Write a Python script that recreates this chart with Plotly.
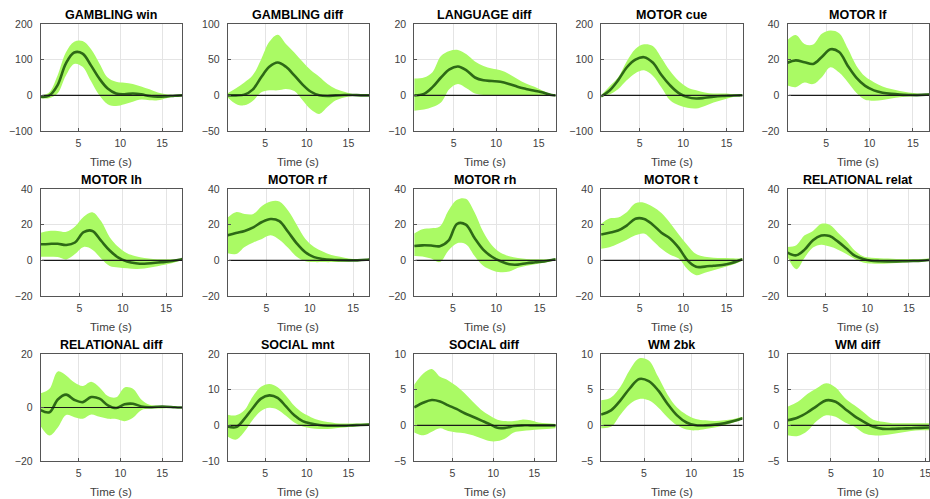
import plotly.graph_objects as go

# ---------------- data ----------------
TITLES = ["GAMBLING win", "GAMBLING diff", "LANGUAGE diff", "MOTOR cue", "MOTOR lf",
          "MOTOR lh", "MOTOR rf", "MOTOR rh", "MOTOR t", "RELATIONAL relat",
          "RELATIONAL diff", "SOCIAL mnt", "SOCIAL diff", "WM 2bk", "WM diff"]

YLIMS = [[-100, 200], [-50, 100], [-10, 20], [-100, 200], [-20, 40],
         [-20, 40], [-20, 40], [-20, 40], [-20, 40], [-20, 40],
         [-20, 20], [-10, 20], [-5, 10], [-5, 10], [-5, 10]]
YTICKS = [[-100, 0, 100, 200], [-50, 0, 50, 100], [-10, 0, 10, 20], [-100, 0, 100, 200], [-20, 0, 20, 40],
          [-20, 0, 20, 40], [-20, 0, 20, 40], [-20, 0, 20, 40], [-20, 0, 20, 40], [-20, 0, 20, 40],
          [-20, 0, 20], [-10, 0, 10, 20], [-5, 0, 5, 10], [-5, 0, 5, 10], [-5, 0, 5, 10]]
XTICKS = [5, 10, 15]
ZERO_START = 0.7

MID = [1.5, 2.5, 3.5, 4.5, 5.5, 6.5, 7.5, 8.5, 9.5, 10.5, 11.5, 12.5, 13.5, 14.5, 15.5, 16.5]
MID_WM = [1.5, 2.5, 3.5, 4.5, 5.5, 6.5, 7.5, 8.5, 9.5, 10.5, 11.5, 12.5, 13.5, 14.5]

t_gw = [0.5] + MID + [17.4]
m_gw = [-4, -1, 28, 89, 120, 117, 84, 47, 19, 5, 3, 5, 3, -2, -4, -3, -1, 0]
hi_gw = [0, 8, 55, 120, 150, 152, 130, 90, 50, 38, 35, 32, 25, 17, 8, 3, 1, 0]
lo_gw = [-8, -8, 5, 55, 88, 80, 40, 0, -25, -30, -25, -18, -12, -14, -14, -8, -3, 0]

t_gd = [0.5] + MID + [17.5]
m_gd = [0, 0, 1, 8, 25, 40, 46, 40, 28, 15, 5, 0, -1, 0, 0.5, 0.5, 0, 0]
hi_gd = [3, 10, 18, 28, 50, 75, 85, 72, 60, 47, 35, 26, 16, 9, 5, 2, 0.5, 0]
lo_gd = [-3, -12, -14, -8, 4, 7, 7, 9, 6, -7, -20, -26, -16, -7, -3, -1, 0, 0]

t_ld = [0.35] + MID + [17.0]
m_ld = [0, 0.4, 2.3, 5, 7.3, 8.1, 7, 5, 4.2, 4, 3.8, 3.2, 2.4, 1.8, 1.3, 0.8, 0.1, 0]
hi_ld = [4.7, 5, 6.5, 11, 12.4, 12.7, 11.5, 9.5, 8.2, 7.5, 7, 6, 4.6, 3.3, 2.4, 1.3, 0.3, 0]
lo_ld = [-4.3, -4, -3.3, -2, 1.8, 3.2, 2, 0.5, 0.1, 0, 0, 0, 0, 0, 0, 0, 0, 0]

t_motor = [0.55] + MID + [16.85]
m_mc = [-3, 13, 42, 78, 100, 107, 92, 57, 28, 6, -5, -9, -7, -4, -2, -1, 0, 0]
hi_mc = [0, 25, 50, 95, 130, 143, 138, 105, 68, 40, 22, 14, 8, 5, 5, 4, 1, 0]
lo_mc = [-5, 2, 17, 42, 62, 70, 55, 22, -14, -28, -35, -37, -30, -20, -13, -6, -1, 0]

m_mlf = [18.3, 19.6, 18.6, 17.6, 21.5, 25.8, 24.3, 16.5, 9.8, 5.3, 2.8, 1.5, 0.8, 0.4, 0.2, 0.1, 0.4, 0.6]
hi_mlf = [31, 33.8, 28.8, 28.5, 34.5, 36.3, 34.8, 26.2, 16.5, 10.5, 7.4, 5, 3.5, 2.4, 1.6, 1, 0.6, 0.6]
lo_mlf = [5.5, 4.6, 7.2, 6.3, 10.2, 15.8, 12.8, 7.4, 1.3, -2.5, -3, -2.6, -1.8, -1.1, -0.7, -0.4, -0.1, 0]

m_mlh = [9, 9.2, 9.3, 8.6, 10, 15.8, 16.5, 11, 5.5, 1.5, -0.6, -1.6, -1.9, -1.5, -1, -0.5, 0.3, 0.7]
hi_mlh = [15.5, 16.5, 16.5, 16, 19, 24.5, 27, 22, 13, 7.5, 4, 2.3, 1.3, 0.8, 0.6, 0.6, 0.8, 0.9]
lo_mlh = [2, 2, 1.8, 0.5, 3.5, 7.5, 6, 1, -3.2, -4, -4.4, -4.8, -4.6, -3.8, -2.8, -1.8, -0.2, 0.4]

m_mrf = [14, 15.3, 16.5, 18.5, 21.5, 23.2, 22, 16, 9.5, 4.5, 1.8, 0.8, 0.3, 0.1, 0, 0, 0.3, 0.5]
hi_mrf = [24, 27, 26, 26, 30.5, 33, 33, 28, 20, 12, 7.5, 5, 3, 2, 1, 0.6, 0.8, 1]
lo_mrf = [4, 3.5, 7.5, 10, 12, 14, 11.5, 7, 2, -0.5, -1, -1, -1, -0.9, -0.6, -0.3, 0, 0.2]

m_mrh = [8, 8.4, 8.3, 7.9, 11, 20.5, 20, 12.5, 6, 2, -0.5, -2.2, -2.4, -1.6, -1.1, -0.6, 0.3, 0.6]
hi_mrh = [15, 17.5, 18, 19, 28, 34, 34.5, 27, 16, 8.5, 4.2, 2.3, 1.3, 0.8, 0.6, 0.6, 0.8, 1]
lo_mrh = [2.4, 2.2, 1, -1, 5.5, 9.6, 9, 2.5, -3, -5.5, -6.7, -6.3, -4.2, -3, -2.2, -1.3, -0.2, 0.3]

m_mt = [14.5, 15.5, 16.7, 19.5, 23.3, 23.2, 20, 15.5, 12.3, 7, 0, -3.6, -3.5, -3, -2.6, -1.6, 0, 0.6]
hi_mt = [20.5, 23.5, 24, 27, 32, 32.3, 30, 26.5, 21, 14.5, 8.5, 3.5, 2, 1.5, 1.3, 1.2, 1, 1]
lo_mt = [6.5, 7.3, 9.3, 11.5, 14, 15, 11, 6.5, 3.2, 1, -5, -8.3, -7, -5.5, -4.2, -2.8, -1, 0]

t_rel = [0.45] + MID + [17.4]
m_rr = [4.3, 2.8, 6, 11.3, 13.9, 13.6, 10.5, 6.6, 2.6, 0.8, -0.2, -0.5, -0.6, -0.6, -0.5, -0.4, -0.2, 0.2]
hi_rr = [7.5, 8.5, 14, 16.5, 20.5, 20, 15.5, 11, 5.5, 2.3, 1.5, 1.2, 1, 0.8, 0.7, 0.7, 0.8, 1]
lo_rr = [2, -5, 1.5, 7.2, 8.8, 7.7, 6, 3.5, 0.8, -1.2, -1.8, -1.9, -1.8, -1.5, -1.2, -0.8, -0.4, 0]

m_rd = [-1, -1.8, 3, 4.8, 2.8, 2, 3.9, 3.3, 0.8, -0.2, 1.2, 1.4, 0.4, 0.1, 0.3, 0.3, 0.1, 0]
hi_rd = [5.3, 7, 13.5, 12, 9.3, 8, 9.6, 7.5, 4.3, 3.8, 7.5, 7, 3, 1, 0.7, 0.5, 0.2, 0]
lo_rd = [-7, -10.5, -7.5, -2.8, -3.6, -4.2, -2.6, -3.5, -4.2, -4.3, -5.1, -3.8, -1, -0.4, -0.4, -0.3, -0.1, 0]

t_sm = [0.5] + MID + [17.5]
m_sm = [-0.3, -0.5, 1.8, 4.8, 7.5, 8.4, 7.7, 5.3, 2.8, 1.2, 0.5, 0.1, -0.1, -0.1, -0.1, 0, 0.1, 0.2]
hi_sm = [3, 2.8, 4.2, 8, 10.8, 11.6, 10.7, 8.3, 5.5, 3.5, 2.3, 1.4, 0.9, 0.6, 0.5, 0.5, 0.5, 0.5]
lo_sm = [-3.1, -4, -1.8, 1.5, 4, 4.9, 4.4, 2.7, 0.8, -0.3, -0.8, -1, -1, -0.8, -0.6, -0.4, -0.2, 0]

t_sd = [0.35] + MID + [17.6]
m_sd = [2.5, 3.2, 3.55, 3.35, 2.8, 2.3, 1.7, 1.2, 0.7, 0.2, -0.35, -0.35, -0.1, 0, 0, 0, 0, 0]
hi_sd = [5.7, 7.3, 7.9, 6.8, 6.3, 5.5, 4.5, 3.3, 2.2, 1.4, 0.8, 0.6, 0.6, 0.8, 0.7, 0.4, 0.3, 0.2]
lo_sd = [-1, -1.4, -0.9, -0.4, -0.8, -1, -1.1, -1.4, -1.8, -2.2, -2.2, -1.8, -1, -0.8, -0.7, -0.6, -0.5, -0.4]

t_wm2 = [0.45] + MID_WM + [15.45]
m_wm2 = [1.5, 2.1, 3.5, 5.2, 6.5, 6.2, 4.9, 3, 1.4, 0.4, 0, 0, 0.1, 0.3, 0.6, 1]
hi_wm2 = [3.5, 3.9, 5.4, 7.8, 9.4, 9.1, 6.8, 4.3, 2.5, 1.5, 0.9, 0.7, 0.6, 0.7, 0.9, 1.2]
lo_wm2 = [-0.4, -0.2, 1.5, 3, 3.7, 3.5, 2.5, 1.1, 0, -0.6, -0.7, -0.5, -0.3, 0, 0.4, 0.9]

t_wmd = [0.4] + MID_WM + [15.4]
m_wmd = [0.7, 1.1, 1.8, 2.7, 3.5, 3.3, 2.3, 1.3, 0.5, -0.2, -0.5, -0.5, -0.45, -0.4, -0.35, -0.3]
hi_wmd = [2.6, 3.3, 4.4, 5.2, 5.9, 5.3, 3.8, 2.8, 1.8, 0.8, 0.5, 0.3, 0.3, 0.3, 0.3, 0.3]
lo_wmd = [-1.4, -1.5, -0.8, 0.6, 1.4, 1.2, 0.4, -0.2, -1.1, -1.4, -1.4, -1.2, -1, -0.8, -0.7, -0.7]

TIMES = [t_gw, t_gd, t_ld, t_motor, t_motor, t_motor, t_motor, t_motor, t_motor, t_rel,
         t_rel, t_sm, t_sd, t_wm2, t_wmd]
MEANS = [m_gw, m_gd, m_ld, m_mc, m_mlf, m_mlh, m_mrf, m_mrh, m_mt, m_rr,
         m_rd, m_sm, m_sd, m_wm2, m_wmd]
HIGHS = [hi_gw, hi_gd, hi_ld, hi_mc, hi_mlf, hi_mlh, hi_mrf, hi_mrh, hi_mt, hi_rr,
         hi_rd, hi_sm, hi_sd, hi_wm2, hi_wmd]
LOWS = [lo_gw, lo_gd, lo_ld, lo_mc, lo_mlf, lo_mlh, lo_mrf, lo_mrh, lo_mt, lo_rr,
        lo_rd, lo_sm, lo_sd, lo_wm2, lo_wmd]

# ---------------- layout / style ----------------
W, H = 930, 499
COL_LEFT = [40.7, 227.7, 414.2, 601.1, 787.5]
AX_W = 141.5
ROW_TOP = [24, 189, 354]
AX_H = 107
FILL = "rgb(170,250,100)"
LINE = "rgb(45,105,22)"
FONT = "Liberation Sans, Arial, Helvetica, sans-serif"
TICKC = "#404040"

fig = go.Figure()
annotations = []
layout_axes = {}

for i, title in enumerate(TITLES):
    r, c = divmod(i, 5)
    k = i + 1
    xa = "x" if k == 1 else f"x{k}"
    ya = "y" if k == 1 else f"y{k}"
    t = TIMES[i]
    fig.add_trace(go.Scatter(x=t, y=HIGHS[i], mode="lines", line=dict(width=0, shape="spline", color=FILL),
                             xaxis=xa, yaxis=ya, showlegend=False, hoverinfo="skip"))
    fig.add_trace(go.Scatter(x=t, y=LOWS[i], mode="lines", line=dict(width=0, shape="spline", color=FILL),
                             fill="tonexty", fillcolor=FILL,
                             xaxis=xa, yaxis=ya, showlegend=False, hoverinfo="skip"))
    fig.add_trace(go.Scatter(x=t, y=MEANS[i], mode="lines", line=dict(width=2.6, shape="spline", color=LINE),
                             xaxis=xa, yaxis=ya, showlegend=False))
    fig.add_trace(go.Scatter(x=[ZERO_START, t[-1]], y=[0, 0], mode="lines",
                             line=dict(width=1.2, color="#1a1a1a"),
                             xaxis=xa, yaxis=ya, showlegend=False, hoverinfo="skip"))

    x0 = COL_LEFT[c] / W
    x1 = min((COL_LEFT[c] + AX_W) / W, 0.9995)
    y1 = 1 - ROW_TOP[r] / H
    y0 = 1 - (ROW_TOP[r] + AX_H) / H
    common = dict(showline=True, linecolor="#555555", linewidth=1, mirror=True,
                  showgrid=True, gridcolor="#e4e4e4", gridwidth=1, zeroline=False,
                  ticks="inside", ticklen=3, tickcolor="#555555", automargin=False,
                  ticklabeloverflow="allow",
                  tickfont=dict(family=FONT, size=10.5, color=TICKC))
    layout_axes["xaxis" if k == 1 else f"xaxis{k}"] = dict(
        domain=[x0, x1], range=[t[0], t[-1]], tickvals=XTICKS, anchor=ya,
        ticklabelstandoff=2, **common)
    layout_axes["yaxis" if k == 1 else f"yaxis{k}"] = dict(
        domain=[y0, y1], range=YLIMS[i], tickvals=YTICKS[i], anchor=xa,
        ticklabelstandoff=5, **common)

    xc = (COL_LEFT[c] + AX_W / 2) / W
    annotations.append(dict(text=f"<b>{title}</b>", x=xc, y=1 - (ROW_TOP[r] - 9) / H,
                            xref="paper", yref="paper", xanchor="center", yanchor="middle",
                            showarrow=False, font=dict(family=FONT, size=12.5, color="#000000")))
    annotations.append(dict(text="Time (s)", x=xc, y=1 - (ROW_TOP[r] + AX_H + 31) / H,
                            xref="paper", yref="paper", xanchor="center", yanchor="middle",
                            showarrow=False, font=dict(family=FONT, size=11.5, color=TICKC)))

fig.update_layout(width=W, height=H, margin=dict(l=0, r=0, t=0, b=0),
                  paper_bgcolor="white", plot_bgcolor="white",
                  annotations=annotations, **layout_axes)

fig.write_html("out.html", config={"displayModeBar": False},
               post_script="document.body.style.margin='0px';document.body.style.overflow='hidden';")
